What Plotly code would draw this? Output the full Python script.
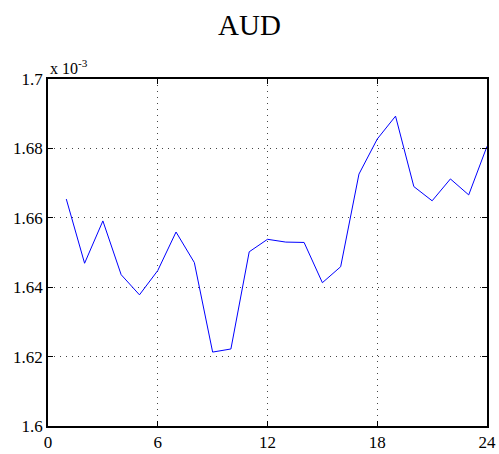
import plotly.graph_objects as go

# hours 1..24, AUD values in units of 1e-3
hours = list(range(1, 25))
aud = [1.6654, 1.6469, 1.6591, 1.6436, 1.6378, 1.6448, 1.6559, 1.6471,
       1.6213, 1.6222, 1.6502, 1.6538, 1.6530, 1.6529, 1.6413, 1.6459,
       1.6726, 1.6827, 1.6893, 1.6690, 1.6649, 1.6712, 1.6666, 1.6806]

x_ticks = [0, 6, 12, 18, 24]
y_ticks = [1.6, 1.62, 1.64, 1.66, 1.68, 1.7]
y_labels = ["1.6", "1.62", "1.64", "1.66", "1.68", "1.7"]

serif = "Liberation Serif, Times New Roman, serif"

fig = go.Figure(go.Scatter(
    x=hours, y=aud, mode="lines",
    line=dict(color="#0000ff", width=1),
    showlegend=False
))

axis_common = dict(
    showline=True, linecolor="black", linewidth=1.5, mirror="ticks",
    ticks="inside", ticklen=5, tickcolor="black",
    showgrid=True, gridcolor="#444", griddash="1px,5px", gridwidth=1,
    zeroline=False, automargin=False,
    tickfont=dict(family=serif, size=17, color="black"),
)

fig.update_xaxes(range=[0, 24], tickvals=x_ticks, ticklabelstandoff=0, **axis_common)
fig.update_yaxes(range=[1.6, 1.7], tickvals=y_ticks, ticktext=y_labels, **axis_common)

fig.add_annotation(
    text="x 10<sup>-3</sup>", xref="paper", yref="paper",
    x=0, y=1.0, xanchor="left", yanchor="bottom", showarrow=False,
    font=dict(family=serif, size=16, color="black"), yshift=0
)

fig.update_layout(
    width=499, height=454,
    margin=dict(l=48, r=12, t=79, b=28),
    paper_bgcolor="white", plot_bgcolor="white",
    title=dict(text="AUD", x=0.5, xanchor="center", y=0.945, yanchor="middle",
               font=dict(family=serif, size=29, color="black")),
)

fig.write_html("out.html", config={"displayModeBar": False},
               post_script="document.body.style.margin='0';")
